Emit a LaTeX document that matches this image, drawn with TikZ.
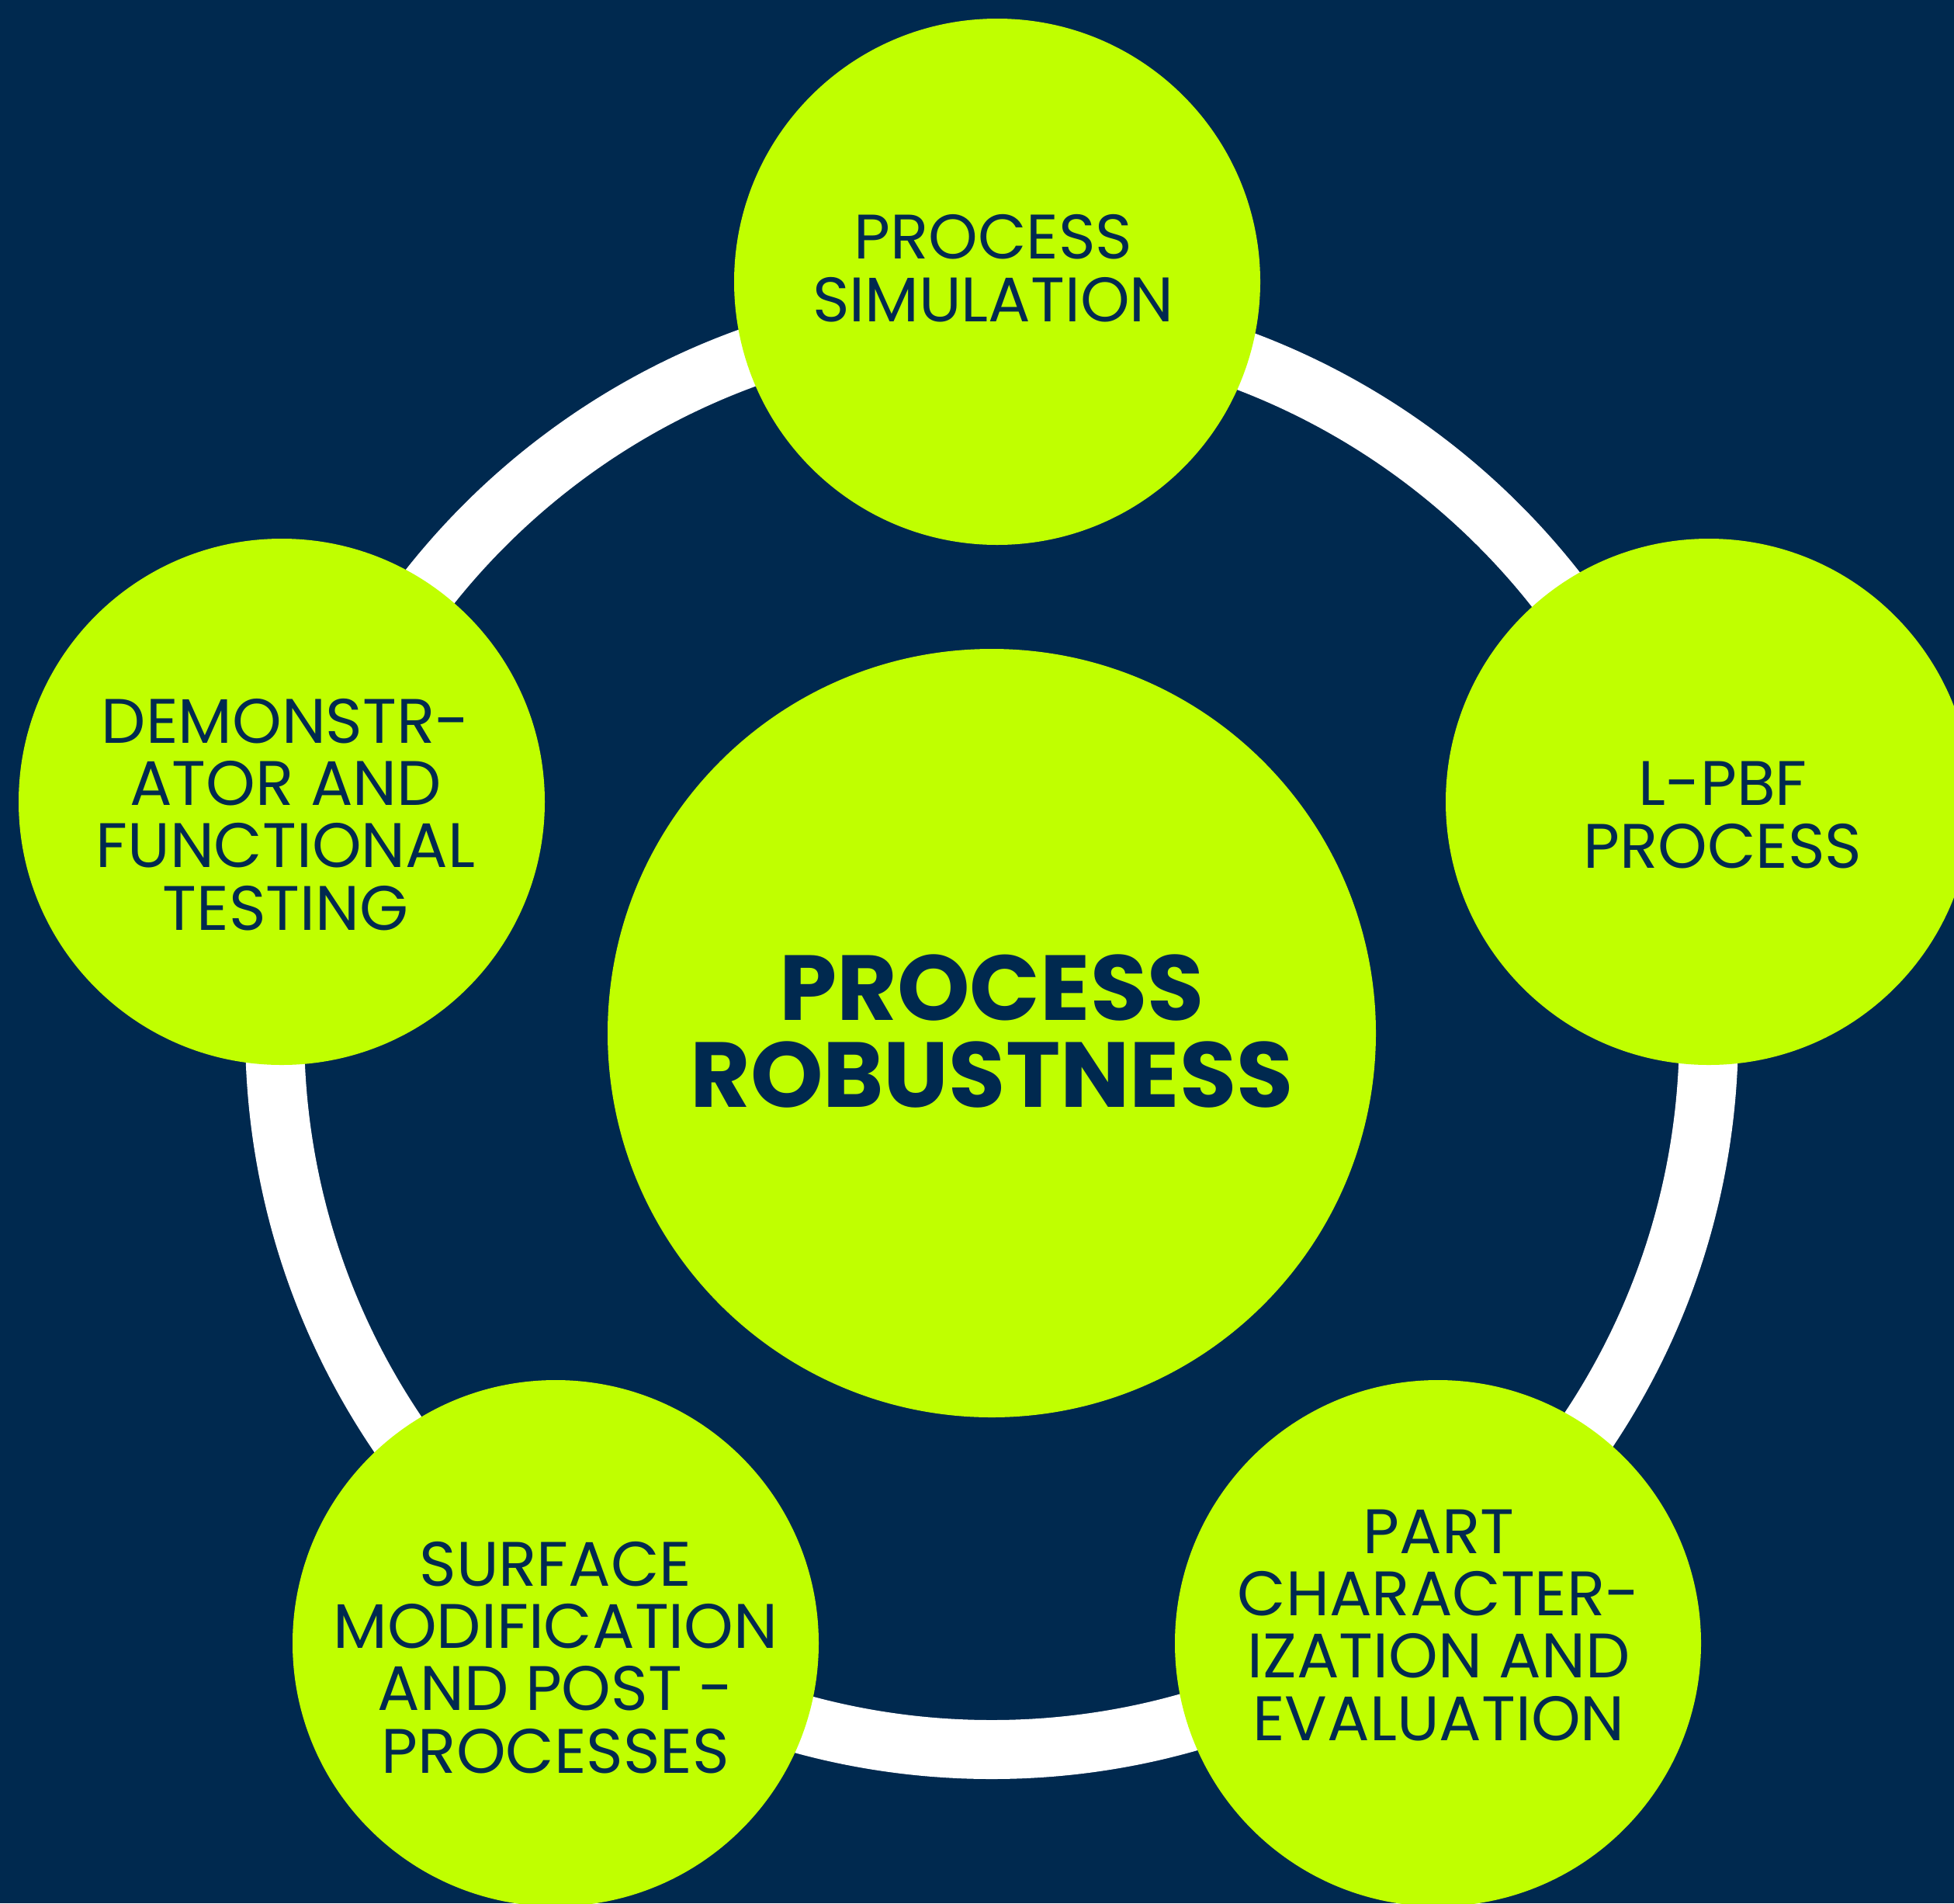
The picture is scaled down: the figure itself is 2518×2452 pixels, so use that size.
\documentclass[tikz,border=0pt]{standalone}
\usepackage{fontspec}
\setmainfont{Poppins}
\definecolor{navy}{HTML}{00294F}
\definecolor{lime}{HTML}{C0FF00}
\begin{document}
\begin{tikzpicture}[x=1pt,y=-1pt,
  bubble/.style={circle,fill=lime,draw=none,inner sep=0pt,minimum size=678pt},
  hub/.style={circle,fill=lime,draw=none,inner sep=0pt,minimum size=990pt},
  lbl/.style={text=navy,align=center,anchor=base,inner sep=0pt,font=\fontsize{81}{80.3}\selectfont},
  hubl/.style={text=navy,align=center,anchor=base,inner sep=0pt,font=\bfseries\fontsize{119}{112}\selectfont}]
\fill[navy] (0,0) rectangle (2518,2452);
\useasboundingbox (0,0) rectangle (2518,2452);
\draw[white,line width=76pt] (1278,1330) circle[radius=924pt];
\node[bubble] (sim) at (1285,363) {};
\node[bubble] (demo) at (363,1033) {};
\node[bubble] (lpbf) at (2202,1033) {};
\node[bubble] (surf) at (716,2117) {};
\node[bubble] (part) at (1853,2117) {};
\node[hub] (core) at (1278,1331) {};
% base anchor = baseline of the last line
\node[lbl] (simt) at (1280,414) {PROCESS\\SIMULATION};
\node[lbl] (demot) at (368,1198) {DEMONSTR-\\ATOR AND\\FUNCTIONAL\\TESTING};
\node[lbl] (lpbft) at (2220,1118) {L-PBF\\PROCESS};
\node[lbl] (surft) at (716,2284) {SURFACE\\MODIFICATION\\AND POST -\\PROCESSES};
\node[lbl] (partt) at (1854,2242) {PART\\CHARACTER-\\IZATION AND\\EVALUATION};
\node[hubl] (coret) at (1278,1426) {PROCESS\\ROBUSTNESS};
\end{tikzpicture}
\end{document}
